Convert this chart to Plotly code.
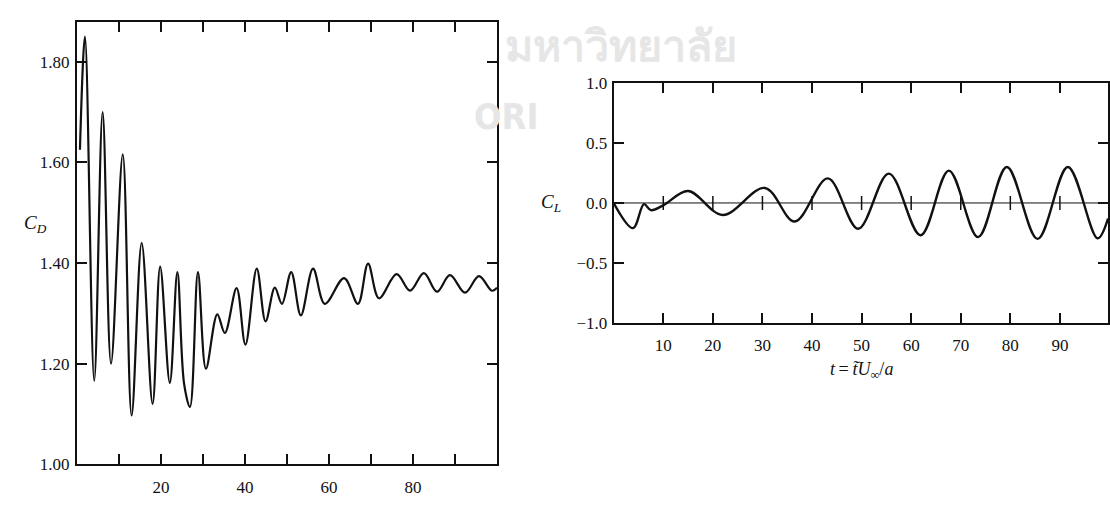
import plotly.graph_objects as go

# ---- Drag coefficient C_D (left panel): extrema ----
cd_t = [0.7, 1.9, 4.1, 6.1, 8.1, 10.9, 13.0, 15.4, 18.0, 19.8, 22.1, 23.9, 25.5, 26.9,
        28.8, 30.7, 33.4, 35.2, 38.0, 40.1, 42.8, 44.9, 47.1, 48.8, 51.0, 53.3, 56.2,
        59.0, 63.6, 66.9, 69.3, 71.9, 76.1, 79.3, 82.6, 85.7, 88.8, 92.4, 95.7, 98.8, 100.0]
cd_v = [1.625, 1.850, 1.166, 1.700, 1.200, 1.616, 1.097, 1.440, 1.120, 1.393, 1.162, 1.382, 1.16, 1.114,
        1.382, 1.190, 1.298, 1.261, 1.350, 1.238, 1.389, 1.284, 1.351, 1.319, 1.382, 1.296, 1.389,
        1.319, 1.370, 1.319, 1.399, 1.330, 1.378, 1.345, 1.380, 1.343, 1.376, 1.341, 1.374, 1.345, 1.351]

# ---- Lift coefficient C_L (right panel) ----
cl_t = [0.0, 3.9, 6.1, 7.5, 10.0, 15.0, 22.0, 30.5, 36.5, 43.2, 49.3, 55.5, 61.9,
        67.6, 73.5, 79.3, 85.5, 91.6, 97.6, 99.7]
cl_v = [0.0, -0.21, -0.01, -0.06, -0.02, 0.10, -0.10, 0.125, -0.155, 0.205, -0.215, 0.245, -0.27,
        0.27, -0.285, 0.30, -0.30, 0.30, -0.295, -0.13]

cd_yticks = [1.00, 1.20, 1.40, 1.60, 1.80]
cd_yticktext = ["1.00", "1.20", "1.40", "1.60", "1.80"]
cd_xticks = [20, 40, 60, 80]
cd_xticktext = ["20", "40", "60", "80"]
cd_minor_dtick = 10

cl_yticks = [-1.0, -0.5, 0.0, 0.5, 1.0]
cl_yticktext = ["\u22121.0", "\u22120.5", "0.0", "0.5", "1.0"]
cl_xticks = [10, 20, 30, 40, 50, 60, 70, 80, 90]
cl_xticktext = ["10", "20", "30", "40", "50", "60", "70", "80", "90"]

W, H = 1110, 508
FONT = "Liberation Serif"
INK = "#111111"

fig = go.Figure()
fig.add_trace(go.Scatter(x=cd_t, y=cd_v, mode="lines", line=dict(color=INK, width=2.2, shape="spline", smoothing=1.0),
                         xaxis="x", yaxis="y", showlegend=False, hoverinfo="skip"))
fig.add_trace(go.Scatter(x=[0, 100], y=[0, 0], mode="lines", line=dict(color=INK, width=1),
                         xaxis="x2", yaxis="y2", showlegend=False, hoverinfo="skip"))
fig.add_trace(go.Scatter(x=cl_xticks, y=[0] * len(cl_xticks), mode="markers",
                         marker=dict(symbol="line-ns", size=10, line=dict(color=INK, width=1.5)),
                         xaxis="x2", yaxis="y2", showlegend=False, hoverinfo="skip"))
fig.add_trace(go.Scatter(x=cl_t, y=cl_v, mode="lines", line=dict(color=INK, width=2.4, shape="spline", smoothing=1.0),
                         xaxis="x2", yaxis="y2", showlegend=False, hoverinfo="skip"))

axis_common = dict(showline=True, linecolor=INK, linewidth=2, mirror="ticks", ticks="inside",
                   ticklen=10, tickwidth=2, tickcolor=INK, showgrid=False, zeroline=False,
                   tickfont=dict(family=FONT, size=17, color=INK))

fig.update_layout(
    width=W, height=H, margin=dict(l=0, r=0, t=0, b=0),
    paper_bgcolor="white", plot_bgcolor="rgba(0,0,0,0)",
    xaxis=dict(domain=[77 / W, 497 / W], range=[0, 100], tickvals=cd_xticks, ticktext=cd_xticktext,
               anchor="y", ticklabelstandoff=6,
               minor=dict(dtick=cd_minor_dtick, ticks="inside", ticklen=10, tickwidth=2, tickcolor=INK, showgrid=False),
               **axis_common),
    yaxis=dict(domain=[1 - 473 / H, 1 - 13 / H], range=[1.0, 1.88], tickvals=cd_yticks, ticktext=cd_yticktext,
               anchor="x", ticklabelstandoff=2, **axis_common),
    xaxis2=dict(domain=[613.7 / W, 1108 / W], range=[0, 99.7], tickvals=cl_xticks, ticktext=cl_xticktext,
                anchor="y2", ticklabelstandoff=6, **axis_common),
    yaxis2=dict(domain=[1 - 326 / H, 1 - 77 / H], range=[-1.0, 1.0], tickvals=cl_yticks, ticktext=cl_yticktext,
                anchor="x2", ticklabelstandoff=1, **axis_common),
    annotations=[
        dict(text="<b>มหาวิทยาลัย</b>", x=503 / W, y=1 - 37 / H, xref="paper", yref="paper", xanchor="left",
             yanchor="middle", showarrow=False, font=dict(family="Noto Sans", size=43, color="#e6e6e6")),
        dict(text="<b>ORI</b>", x=541 / W, y=1 - 112 / H, xref="paper", yref="paper", xanchor="right",
             yanchor="middle", showarrow=False, font=dict(family="DejaVu Sans Condensed", size=36, color="#e6e6e6")),
        dict(text="<i>C<sub>D</sub></i>", x=22 / W, y=1 - 223 / H, xref="paper", yref="paper",
             showarrow=False, font=dict(family=FONT, size=19, color=INK)),
        dict(text="<i>C<sub>L</sub></i>", x=551 / W, y=1 - 202 / H, xref="paper", yref="paper",
             showarrow=False, font=dict(family=FONT, size=19, color=INK)),
        dict(text="<i>t</i>\u2009=\u2009<i>t\u0303U</i><sub>\u221e</sub>/<i>a</i>", x=828 / W, y=1 - 362 / H,
             xref="paper", yref="paper", xanchor="left", yanchor="top", showarrow=False,
             font=dict(family=FONT, size=18, color=INK)),
    ],
)

fig.write_html("out.html")
